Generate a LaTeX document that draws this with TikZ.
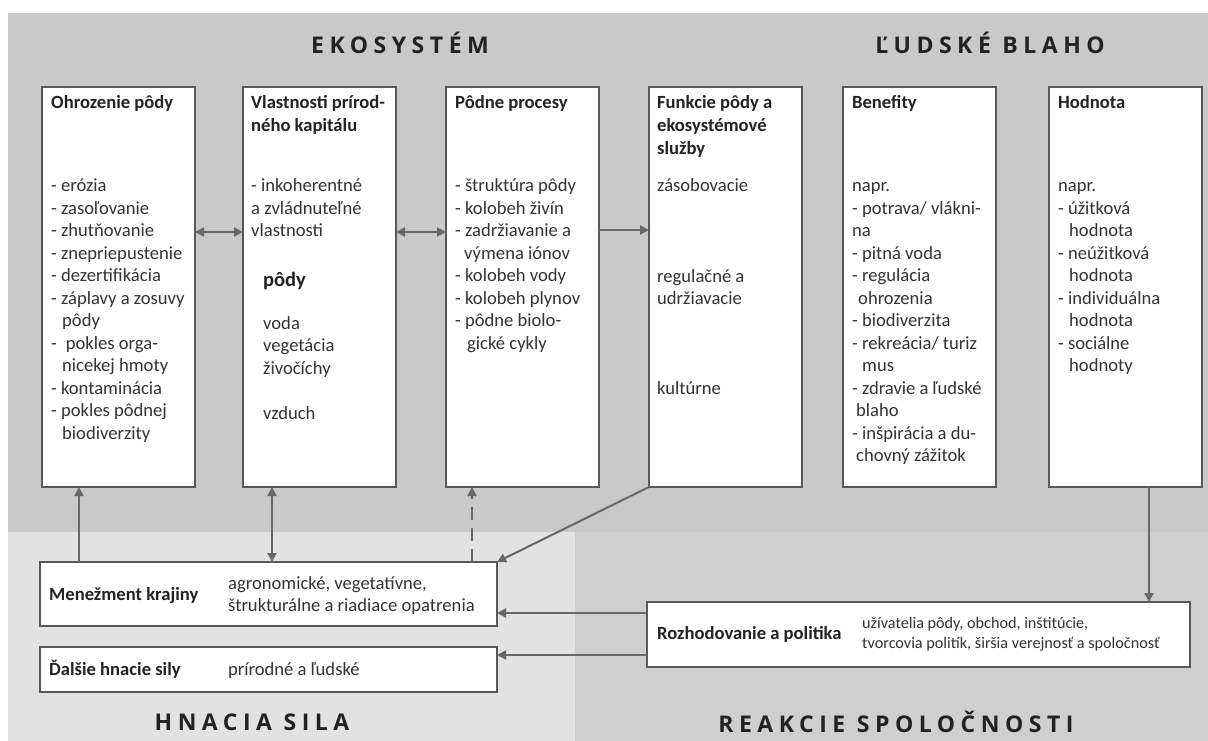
\documentclass[tikz,border=0pt]{standalone}
\usepackage{fontspec}
\setmainfont{Carlito}
\newfontfamily\headfont[LetterSpace=24]{Open Sans}
\usetikzlibrary{arrows.meta}
\definecolor{bgtop}{HTML}{C9C9C9}
\definecolor{bgleft}{HTML}{E2E2E2}
\definecolor{bgright}{HTML}{CFCFCF}
\definecolor{boxline}{HTML}{585858}
\definecolor{linkc}{HTML}{686868}
\definecolor{txt}{HTML}{333333}
\definecolor{ttl}{HTML}{222222}
% a block of lines whose reference point is the first baseline
\newcommand\lineblock[1]{\parbox[t]{400pt}{\raggedright #1}}
\begin{document}
\begin{tikzpicture}[x=1pt,y=-1pt,
  panel/.style={draw=boxline, line width=2.2pt, fill=white, anchor=north west,
    inner sep=0pt, outer sep=0pt},
  column/.style={panel, minimum width=153pt, minimum height=400pt},
  body/.style={anchor=base west, inner sep=0pt, text=txt,
    font=\fontsize{18.6}{22.5}\selectfont},
  head/.style={body, text=ttl, font=\bfseries\fontsize{18.6}{23}\selectfont},
  small/.style={body, font=\fontsize{18.6}{22}\selectfont},
  tiny/.style={body, font=\fontsize{16.2}{20}\selectfont},
  title/.style={inner sep=0pt, text=ttl, font=\headfont\bfseries\fontsize{23}{26}\selectfont},
  tip/.tip={Triangle[length=9pt,width=9pt]},
  link/.style={draw=linkc, line width=2pt, -tip},
  both/.style={link, tip-tip},
]
\useasboundingbox (0,0) rectangle (1208,741);
% background zones
\fill[white] (0,0) rectangle (1208,741);
\fill[bgtop] (8,13) rectangle (1208,532);
\fill[bgleft] (8,532) rectangle (575,741);
\fill[bgright] (575,532) rectangle (1208,741);

% zone titles
\node[title] (tEco) at (400,43) {EKOSYSTÉM};
\node[title] (tHum) at (990,43) {ĽUDSKÉ BLAHO};
\node[title] (tDrv) at (252,722) {HNACIA SILA};
\node[title] (tRsp) at (896,722) {REAKCIE SPOLOČNOSTI};

% the six columns
\node[column] (threat) at (42,87) {};
\node[column] (capital) at (243,87) {};
\node[column] (proc) at (446,87) {};
\node[column] (func) at (649,87) {};
\node[column] (ben) at (843,87) {};
\node[column] (val) at (1049,87) {};

% column 1
\node[head] (threatH) at (51,109) {Ohrozenie pôdy};
\node[body] (threatB) at (51,192) {\lineblock{- erózia\\- zasoľovanie\\- zhutňovanie\\- znepriepustenie\\- dezertifikácia\\- záplavy a zosuvy\\\hspace*{11pt}pôdy\\-\hspace*{9pt}pokles orga-\\\hspace*{11pt}nicekej hmoty\\- kontaminácia\\- pokles pôdnej\\\hspace*{11pt}biodiverzity}};

% column 2
\node[head] (capitalH) at (251,109) {\lineblock{Vlastnosti prírod-\\ného kapitálu}};
\node[body] (capitalB) at (251,192) {\lineblock{- inkoherentné\\a zvládnuteľné\\vlastnosti}};
\node[head, font=\bfseries\fontsize{20.5}{24}\selectfont] (capitalS) at (263,286) {pôdy};
\node[body] (capitalC) at (263,329) {\lineblock{voda\\vegetácia\\živočíchy}};
\node[body] (capitalD) at (263,419) {vzduch};

% column 3
\node[head] (procH) at (455,109) {Pôdne procesy};
\node[body] (procB) at (455,192) {\lineblock{- štruktúra pôdy\\- kolobeh živín\\- zadržiavanie a\\\hspace*{9pt}výmena iónov\\- kolobeh vody\\- kolobeh plynov\\- pôdne biolo-\\\hspace*{12pt}gické cykly}};

% column 4
\node[head] (funcH) at (657,109) {\lineblock{Funkcie pôdy a\\ekosystémové\\služby}};
\node[body] (funcA) at (657,192) {zásobovacie};
\node[body] (funcB) at (657,282) {\lineblock{regulačné a\\udržiavacie}};
\node[body] (funcC) at (657,394) {kultúrne};

% column 5
\node[head] (benH) at (852,109) {Benefity};
\node[body] (benB) at (852,192) {\lineblock{napr.\\- potrava/ vlákni-\\na\\- pitná voda\\- regulácia\\\hspace*{6pt}ohrozenia\\- biodiverzita\\- rekreácia/ turiz\\\hspace*{10pt}mus\\- zdravie a ľudské\\\hspace*{4pt}blaho\\- inšpirácia a du-\\\hspace*{4pt}chovný zážitok}};

% column 6
\node[head] (valH) at (1058,109) {Hodnota};
\node[body] (valB) at (1058,192) {\lineblock{napr.\\- úžitková\\\hspace*{11pt}hodnota\\- neúžitková\\\hspace*{11pt}hodnota\\- individuálna\\\hspace*{11pt}hodnota\\- sociálne\\\hspace*{11pt}hodnoty}};

% lower boxes
\node[panel, minimum width=457pt, minimum height=64pt] (mgmt) at (40,562) {};
\node[head] (mgmtH) at (49,600) {Menežment krajiny};
\node[small] (mgmtB) at (228,589) {\lineblock{agronomické, vegetatívne,\\štrukturálne a riadiace opatrenia}};

\node[panel, minimum width=457pt, minimum height=45pt] (drv) at (40,647) {};
\node[head] (drvH) at (49,675) {Ďalšie hnacie sily};
\node[small] (drvB) at (228,675) {prírodné a ľudské};

\node[panel, minimum width=543pt, minimum height=65pt] (pol) at (647,602) {};
\node[head] (polH) at (657,639) {Rozhodovanie a politika};
\node[tiny] (polB) at (862,628) {\lineblock{užívatelia pôdy, obchod, inštitúcie,\\tvorcovia politík, širšia verejnosť a spoločnosť}};

% horizontal links between the columns
\draw[both] ([yshift=-145pt]threat.north east) -- ([yshift=-145pt]capital.north west);
\draw[both] ([yshift=-145pt]capital.north east) -- ([yshift=-145pt]proc.north west);
\draw[link] ([yshift=-143pt]proc.north east) -- ([yshift=-143pt]func.north west);

% links from landscape management up to the columns
\coordinate (m1) at ([xshift=37pt]threat.south west);
\coordinate (m2) at ([xshift=29pt]capital.south west);
\coordinate (m3) at ([xshift=26pt]proc.south west);
\draw[link] (m1 |- mgmt.north) -- (m1);
\draw[both] (m2 |- mgmt.north) -- (m2);
\draw[link, dash pattern=on 13pt off 8pt] (m3 |- mgmt.north) -- (m3);
\draw[link] (func.south west) -- (mgmt.north east);

% value to decisions, decisions back to the drivers
\coordinate (v1) at ([xshift=100pt]val.south west);
\draw[link] (v1) -- (v1 |- pol.north);
\coordinate (p1) at ([yshift=-11pt]pol.north west);
\coordinate (p2) at ([yshift=-53pt]pol.north west);
\draw[link] (p1) -- (p1 -| mgmt.east);
\draw[link] (p2) -- (p2 -| drv.east);
\end{tikzpicture}
\end{document}
